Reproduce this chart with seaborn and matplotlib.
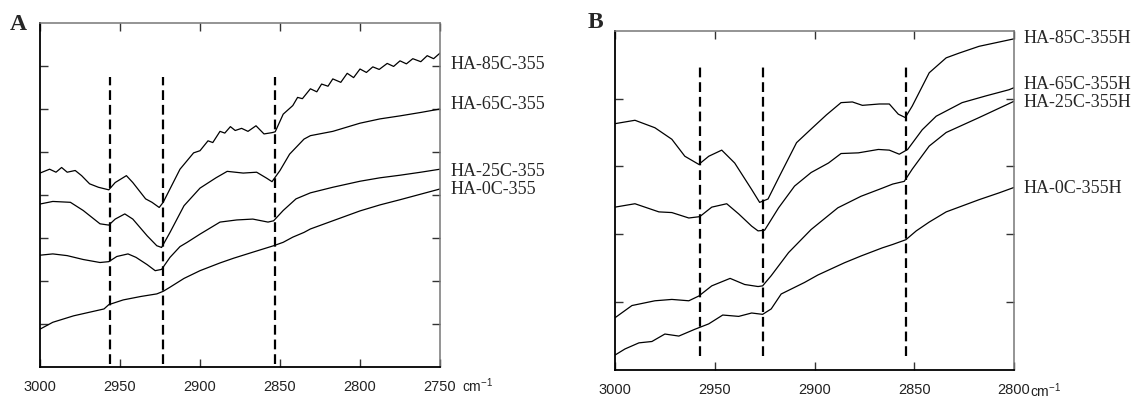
import matplotlib
matplotlib.use("Agg")
import matplotlib.pyplot as plt
import matplotlib.transforms as mtransforms
import seaborn as sns
import pandas as pd

# ---------------- Panel A data ----------------
A_labels = ["HA-85C-355", "HA-65C-355", "HA-25C-355", "HA-0C-355"]
A_label_y = [7.05, 6.12, 4.56, 4.16]

A_85_x = [3000, 2994, 2990, 2986.5, 2983, 2978, 2974, 2969, 2963.5, 2957, 2953, 2946, 2942,
          2934, 2930, 2925.5, 2923, 2912.5, 2904, 2900, 2895, 2892, 2887.5, 2884.5, 2881,
          2878, 2874, 2870, 2865, 2860, 2855, 2853, 2848, 2842, 2839, 2836, 2831, 2827, 2824,
          2820, 2817, 2812, 2808, 2804, 2800, 2796, 2792, 2788, 2783, 2779, 2775, 2771, 2767,
          2762, 2758, 2754, 2750]
A_85_y = [4.51, 4.60, 4.53, 4.64, 4.53, 4.57, 4.45, 4.26, 4.18, 4.12, 4.29, 4.45, 4.29,
          3.91, 3.83, 3.71, 3.83, 4.60, 4.98, 5.03, 5.26, 5.22, 5.48, 5.44, 5.59,
          5.50, 5.55, 5.48, 5.61, 5.42, 5.45, 5.47, 5.88, 6.08, 6.27, 6.24, 6.47, 6.40, 6.58,
          6.53, 6.70, 6.62, 6.83, 6.73, 6.93, 6.85, 6.98, 6.92, 7.06, 6.99, 7.12, 7.05, 7.17,
          7.10, 7.24, 7.17, 7.30]

A_65_x = [3000, 2992, 2981, 2973, 2962.5, 2957, 2953, 2947, 2942, 2933, 2927, 2924, 2921,
          2918.75, 2910, 2900, 2890, 2883, 2873, 2864.6, 2858.3, 2855, 2850, 2844, 2835,
          2831, 2817, 2800, 2787.5, 2775, 2762, 2750]
A_65_y = [3.79, 3.85, 3.83, 3.64, 3.33, 3.30, 3.44, 3.56, 3.44, 3.05, 2.82, 2.78, 2.98,
          3.13, 3.75, 4.16, 4.40, 4.55, 4.51, 4.53, 4.39, 4.31, 4.57, 4.95, 5.30,
          5.38, 5.48, 5.67, 5.77, 5.84, 5.92, 6.00]

A_25_x = [3000, 2992, 2983, 2973, 2962.5, 2957, 2952, 2945, 2940, 2933, 2928, 2924, 2921,
          2918.75, 2912.5, 2908, 2900, 2887.5, 2877, 2867, 2857.5, 2854, 2848, 2840, 2831,
          2817, 2800, 2787.5, 2775, 2762, 2750]
A_25_y = [2.60, 2.63, 2.59, 2.50, 2.43, 2.45, 2.57, 2.63, 2.55, 2.38, 2.24, 2.27, 2.43,
          2.55, 2.80, 2.90, 3.09, 3.37, 3.42, 3.44, 3.37, 3.40, 3.64, 3.91, 4.05,
          4.18, 4.32, 4.40, 4.46, 4.53, 4.60]

A_0_x = [3000, 2992, 2979, 2960, 2957, 2948, 2937, 2927, 2923, 2919, 2910, 2900, 2887.5,
         2879, 2867, 2854, 2848, 2842, 2835, 2831, 2817, 2800, 2787.5, 2775, 2762, 2750]
A_0_y = [0.88, 1.04, 1.19, 1.35, 1.45, 1.56, 1.64, 1.70, 1.76, 1.85, 2.06, 2.24, 2.42,
         2.53, 2.67, 2.82, 2.90, 3.02, 3.13, 3.21, 3.40, 3.63, 3.77, 3.89, 4.02, 4.14]

A_peaks = [2956.5, 2923, 2853]
A_peak_ymin, A_peak_ymax = 0.07, 6.75
A_xticks = [3000, 2950, 2900, 2850, 2800, 2750]
A_yticks = [1, 2, 3, 4, 5, 6, 7]

# ---------------- Panel B data ----------------
B_labels = ["HA-85C-355H", "HA-65C-355H", "HA-25C-355H", "HA-0C-355H"]
B_label_y = [4.90, 4.22, 3.95, 2.69]

B_85_x = [3000, 2990, 2980, 2971.5, 2965, 2958, 2953, 2946.5, 2940, 2931.5, 2927.5, 2923.3,
          2917.5, 2909, 2901, 2894, 2886.7, 2881, 2876, 2867.5, 2862.5, 2858, 2854.5, 2851,
          2842.5, 2834, 2827.5, 2817.5, 2800]
B_85_y = [3.63, 3.68, 3.57, 3.40, 3.15, 3.03, 3.15, 3.24, 3.05, 2.66, 2.47, 2.52,
          2.86, 3.35, 3.57, 3.76, 3.94, 3.95, 3.90, 3.92, 3.92, 3.77, 3.72, 3.89,
          4.38, 4.60, 4.67, 4.77, 4.88]

B_65_x = [3000, 2990, 2978, 2971.5, 2963, 2957.5, 2951.5, 2944, 2938, 2931.5, 2928.3, 2925,
          2918, 2910, 2901.7, 2893, 2886.7, 2878, 2868, 2862.5, 2857.5, 2853.3, 2846, 2839,
          2826, 2814, 2802.5, 2800]
B_65_y = [2.40, 2.45, 2.33, 2.32, 2.24, 2.26, 2.40, 2.45, 2.30, 2.12, 2.05, 2.06,
          2.39, 2.71, 2.91, 3.05, 3.19, 3.20, 3.25, 3.24, 3.18, 3.25, 3.54, 3.74,
          3.94, 4.04, 4.13, 4.16]

B_25_x = [3000, 2991.5, 2980, 2971.5, 2963, 2958, 2951.5, 2942.3, 2935, 2928.3, 2926, 2921.7,
          2913, 2901.7, 2888.3, 2876.7, 2866, 2860.8, 2855, 2851, 2842.5, 2834, 2817.5, 2800]
B_25_y = [0.77, 0.95, 1.02, 1.04, 1.02, 1.09, 1.24, 1.35, 1.26, 1.23, 1.24, 1.39,
          1.73, 2.07, 2.39, 2.56, 2.68, 2.74, 2.78, 2.96, 3.30, 3.50, 3.72, 3.96]

B_0_x = [3000, 2995, 2988, 2981.5, 2975, 2968, 2960, 2953, 2946, 2938, 2931.5, 2926, 2921.7,
         2916.7, 2905, 2898.3, 2885, 2876.7, 2866, 2860.8, 2854.2, 2849, 2842.5, 2834,
         2817.5, 2807.5, 2800]
B_0_y = [0.22, 0.31, 0.40, 0.42, 0.53, 0.50, 0.60, 0.68, 0.81, 0.79, 0.84, 0.82, 0.90,
         1.12, 1.29, 1.40, 1.58, 1.68, 1.80, 1.85, 1.92, 2.05, 2.18, 2.33,
         2.51, 2.61, 2.69]

B_peaks = [2957.5, 2926, 2854]
B_peak_ymin, B_peak_ymax = 0.2, 4.47
B_xticks = [3000, 2950, 2900, 2850, 2800]
B_yticks = [1, 2, 3, 4]

# ---------------- style ----------------
sns.set_style("ticks")
plt.rcParams["font.family"] = ["Liberation Sans", "DejaVu Sans"]
plt.rcParams["mathtext.fontset"] = "custom"
plt.rcParams["mathtext.rm"] = "Liberation Sans"

fig = plt.figure(figsize=(11.42, 4.02), dpi=100)
axA = fig.add_axes([40 / 1142, 34 / 402, 400 / 1142, 344 / 402])
axB = fig.add_axes([615 / 1142, 31 / 402, 399 / 1142, 339.3 / 402])


def draw_panel(ax, series, labels, label_y, peaks, pymin, pymax, xlim, ylim,
               xticks, yticks, label_x, unit_xy, letter, letter_xy):
    for (xs, ys) in series:
        df = pd.DataFrame({"x": xs, "y": ys})
        sns.lineplot(data=df, x="x", y="y", ax=ax, color="black", lw=0.9,
                     estimator=None, sort=True, legend=False)
    ax.vlines(peaks, pymin, pymax, colors="black", lw=1.6,
              linestyles=(0, (4.4, 2.2)))
    ax.set_xlim(*xlim)
    ax.set_ylim(*ylim)
    ax.set_xticks(xticks)
    ax.set_xticklabels([str(t) for t in xticks])
    ax.set_yticks(yticks)
    ax.set_yticklabels([])
    ax.set_xlabel("")
    ax.set_ylabel("")
    ax.tick_params(axis="both", which="both", direction="in", length=6,
                   width=1.0, color="#333333", top=True, right=True,
                   labelsize=10.5, pad=9, labelcolor="#222222")
    for side in ("left", "bottom"):
        ax.spines[side].set_color("black")
        ax.spines[side].set_linewidth(1.3)
    for side in ("top", "right"):
        ax.spines[side].set_color("#777777")
        ax.spines[side].set_linewidth(1.1)
        ax.spines[side].set_visible(True)
    trans = mtransforms.blended_transform_factory(ax.transAxes, ax.transData)
    for lab, ly in zip(labels, label_y):
        ax.text(label_x, ly, lab, transform=trans, va="center", ha="left",
                fontsize=13, family=["Liberation Serif", "DejaVu Serif"])
    fig.text(unit_xy[0], unit_xy[1], "cm$^{-1}$", fontsize=10,
             ha="left", va="baseline", color="#222222")
    fig.text(letter_xy[0], letter_xy[1], letter, fontsize=17, fontweight="bold",
             family=["Liberation Serif", "DejaVu Serif"], ha="left", va="center")


draw_panel(axA,
           [(A_85_x, A_85_y), (A_65_x, A_65_y), (A_25_x, A_25_y), (A_0_x, A_0_y)],
           A_labels, A_label_y, A_peaks, A_peak_ymin, A_peak_ymax,
           (3000, 2750), (0, 8), A_xticks, A_yticks, 1.0275,
           (462 / 1142, 1 - 392 / 402), "A", (10 / 1142, 1 - 25 / 402))

draw_panel(axB,
           [(B_85_x, B_85_y), (B_65_x, B_65_y), (B_25_x, B_25_y), (B_0_x, B_0_y)],
           B_labels, B_label_y, B_peaks, B_peak_ymin, B_peak_ymax,
           (3000, 2800), (0, 5), B_xticks, B_yticks, 1.0226,
           (1030 / 1142, 1 - 397 / 402), "B", (588 / 1142, 1 - 23 / 402))

fig.savefig("out.png", dpi=100)
